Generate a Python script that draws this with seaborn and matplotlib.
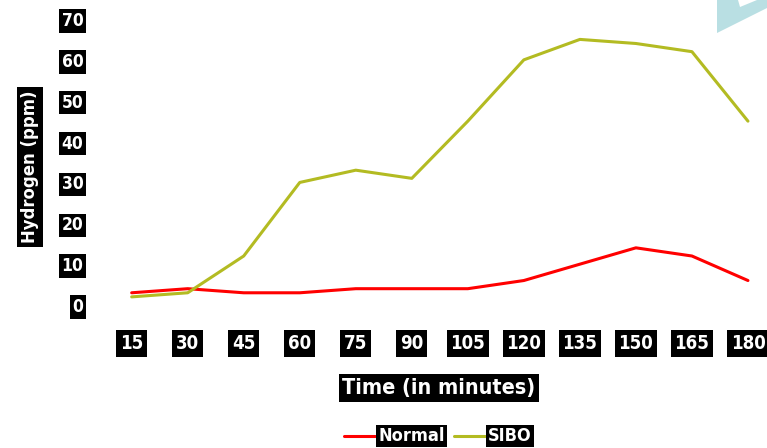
import numpy as np
import pandas as pd
import matplotlib
matplotlib.use("Agg")
import matplotlib.pyplot as plt
from matplotlib import font_manager
from matplotlib.patches import Polygon
from matplotlib.lines import Line2D
import seaborn as sns

# Breath-test readings
minutes = [15, 30, 45, 60, 75, 90, 105, 120, 135, 150, 165, 180]
normal = [3, 4, 3, 3, 4, 4, 4, 6, 10, 14, 12, 6]
sibo = [2, 3, 12, 30, 33, 31, 45, 60, 65, 64, 62, 45]
series_names = ["Normal", "SIBO"]
y_ticks = [0, 10, 20, 30, 40, 50, 60, 70]

colors = {"Normal": "#ff0000", "SIBO": "#b3bb22"}

sns.set_style("white")
plt.rcParams["font.family"] = ["DejaVu Sans"]
plt.rcParams["font.weight"] = "bold"
plt.rcParams["font.stretch"] = "condensed"

# pick a narrow bold face for the labels
fonts = font_manager.fontManager.ttflist
narrow = [f.fname for f in fonts if f.name in ("Liberation Sans Narrow", "Arial Narrow")
          and "Bold" in f.fname and "Italic" not in f.fname]
if not narrow:
    narrow = [f.fname for f in fonts if "DejaVuSansCondensed-Bold." in f.fname]
label_font = font_manager.FontProperties(fname=narrow[0]) if narrow else None

df = pd.DataFrame({
    "Time": minutes * 2,
    "Hydrogen": normal + sibo,
    "Series": ["Normal"] * len(minutes) + ["SIBO"] * len(minutes),
})

W, H = 767, 448
fig = plt.figure(figsize=(W / 100, H / 100), dpi=100)
ax = fig.add_axes([103 / W, (H - 317.3) / H, (W - 103) / W, (317.3 - 10.8) / H])

sns.lineplot(data=df, x="Time", y="Hydrogen", hue="Series", hue_order=series_names,
             palette=colors, linewidth=2.2, legend=False, ax=ax, clip_on=False)

ax.set_xlim(7.32, 185.1)
ax.set_ylim(-3, 72)
ax.set_xticks(minutes)
ax.set_xticklabels([str(m) for m in minutes])
ax.set_yticks(y_ticks)
ax.set_yticklabels([str(v) for v in y_ticks])
ax.tick_params(axis="both", length=0)
ax.tick_params(axis="x", pad=12)
ax.tick_params(axis="y", pad=14)
for spine in ax.spines.values():
    spine.set_visible(False)
ax.grid(False)


def dress(txt, size, pad=0.14):
    txt.set_color("white")
    if label_font is not None:
        txt.set_fontproperties(label_font)
    txt.set_fontsize(size)
    txt.set_bbox(dict(facecolor="black", edgecolor="none", boxstyle=f"square,pad={pad}"))


for lbl in ax.get_xticklabels():
    dress(lbl, 13.4, 0.2)
for lbl in ax.get_yticklabels():
    dress(lbl, 12.5, 0.16)

ax.set_xlabel("Time (in minutes)")
dress(ax.xaxis.label, 15.5, 0.18)
ax.xaxis.label.set_verticalalignment("center")
ax.xaxis.set_label_coords((439 - 103) / (W - 103), -(388 - 317.3) / (317.3 - 10.8))
ax.set_ylabel("Hydrogen (ppm)")
dress(ax.yaxis.label, 13.2, 0.2)
ax.yaxis.label.set_verticalalignment("center")
ax.yaxis.set_label_coords(-(103 - 30) / (W - 103), (317.3 - 167) / (317.3 - 10.8))

handles = [Line2D([], [], color=colors[n], linewidth=2.2) for n in series_names]
leg = fig.legend(handles, series_names, loc="center", bbox_to_anchor=(438 / W, (H - 436) / H),
                 ncol=2, frameon=False, prop=label_font, fontsize=13, handlelength=2.2,
                 handletextpad=0.25, columnspacing=0.7, borderaxespad=0)
for t in leg.get_texts():
    dress(t, 13, 0.12)

# corner ornament
pts = [(717, 0), (738, 0), (740, 7), (757, 0), (767, 0), (767, 8), (717, 33)]
fig.patches.append(Polygon([(x / W, 1 - y / H) for x, y in pts], closed=True,
                           transform=fig.transFigure, facecolor="#b9dfe3",
                           edgecolor="none", zorder=0))

fig.savefig("out.png", dpi=100)
